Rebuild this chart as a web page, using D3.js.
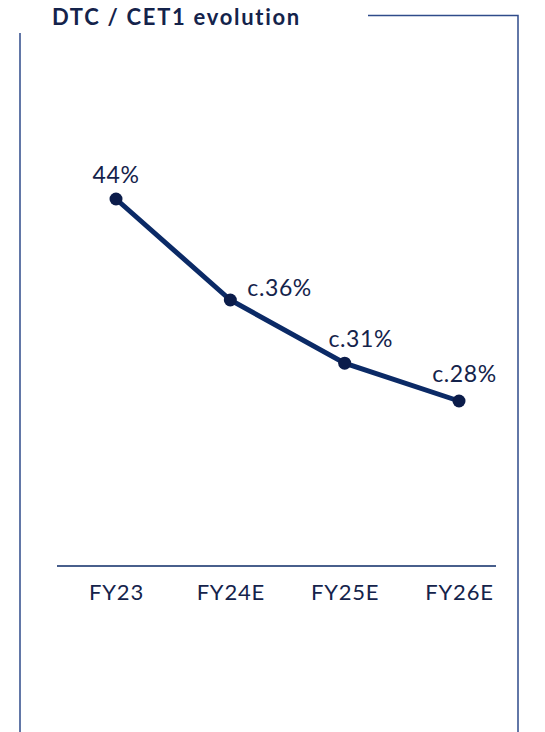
<!DOCTYPE html>
<html>
<head>
<style>
  body { margin: 0; background: #fff; }
  svg { display: block; }
  text { font-family: Lato, "Open Sans", sans-serif; fill: #14234b; }
</style>
</head>
<body>
<div id="chart"></div>
<script src="https://cdnjs.cloudflare.com/ajax/libs/d3/7.8.5/d3.min.js"></script>
<script>
var categories = ["FY23", "FY24E", "FY25E", "FY26E"];
var values = [44, 36, 31, 28];
var valueLabels = ["44%", "c.36%", "c.31%", "c.28%"];

(function() {
  var width = 545, height = 732;
  var navy = "#0b2a66", frame = "#2f4b8a";

  var svg = d3.select("#chart").append("svg")
    .attr("width", width)
    .attr("height", height);

  // frame around the panel
  svg.append("path")
    .attr("d", "M20,33 L20,732 M518,732 L518,15.5 L368,15.5")
    .attr("fill", "none")
    .attr("stroke", frame)
    .attr("stroke-width", 1.5);

  svg.append("text")
    .attr("x", 52).attr("y", 25)
    .attr("font-size", 22)
    .attr("font-weight", 700)
    .attr("letter-spacing", 1.7)
    .text("DTC / CET1 evolution");

  var x = d3.scalePoint().domain(categories).range([116, 459]);
  var y = d3.scaleLinear().domain([20, 50]).range([502, 123.25]);

  // x axis
  var axis = svg.append("g")
    .attr("transform", "translate(0,566)")
    .call(d3.axisBottom(x).tickSize(0).tickPadding(18));
  axis.select(".domain").remove();
  axis.append("line")
    .attr("x1", 57).attr("x2", 496)
    .attr("stroke", navy).attr("stroke-width", 1.5);
  axis.selectAll(".tick text")
    .attr("font-size", 22)
    .attr("letter-spacing", 0.8)
    .attr("fill", "#14234b")
    .style("font-family", "Lato, sans-serif");

  var data = categories.map(function(c, i) {
    return { cat: c, v: values[i], label: valueLabels[i] };
  });

  svg.append("path")
    .datum(data)
    .attr("fill", "none")
    .attr("stroke", navy)
    .attr("stroke-width", 5)
    .attr("d", d3.line().x(function(d) { return x(d.cat); }).y(function(d) { return y(d.v); }));

  svg.selectAll(".dot").data(data).enter().append("circle")
    .attr("class", "dot")
    .attr("cx", function(d) { return x(d.cat); })
    .attr("cy", function(d) { return y(d.v); })
    .attr("r", 6.5)
    .attr("fill", "#0b1c4a");

  // label offsets per point
  var offs = [[0, -16, "middle"], [17, -4, "start"], [16, -16, "middle"], [5.5, -19, "middle"]];
  svg.selectAll(".lbl").data(data).enter().append("text")
    .attr("class", "lbl")
    .attr("x", function(d, i) { return x(d.cat) + offs[i][0]; })
    .attr("y", function(d, i) { return y(d.v) + offs[i][1]; })
    .attr("text-anchor", function(d, i) { return offs[i][2]; })
    .attr("font-size", 23)
    .attr("letter-spacing", 0.6)
    .text(function(d) { return d.label; });
})();
</script>
</body>
</html>
